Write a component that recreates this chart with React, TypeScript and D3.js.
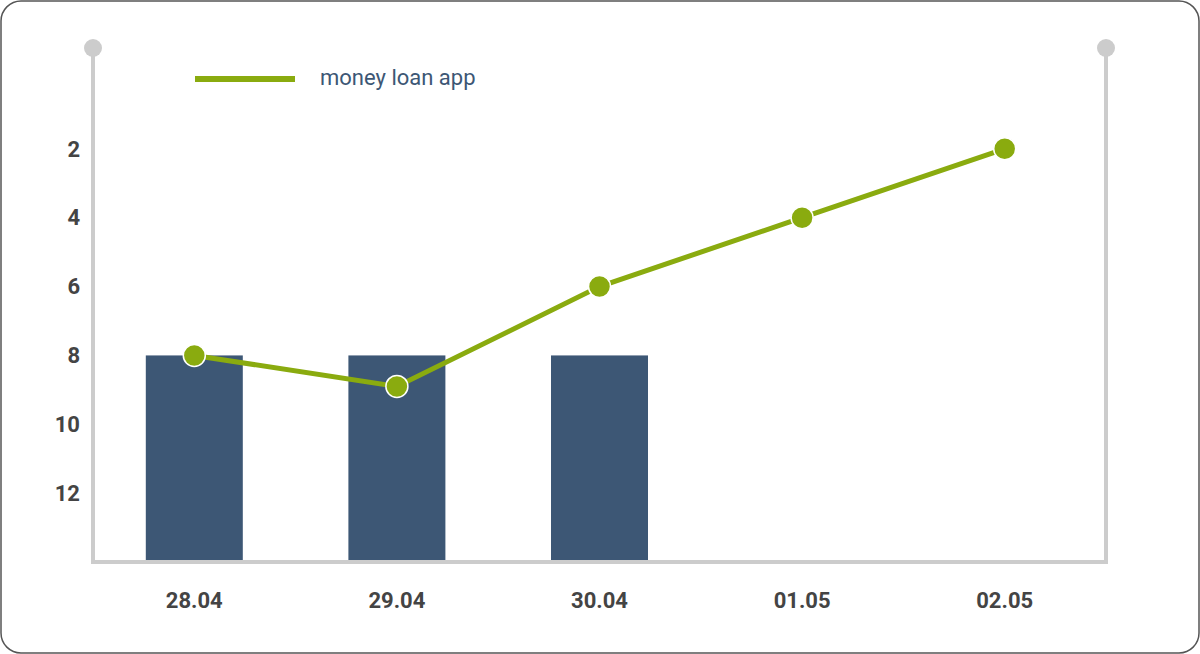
import React from "react";
import * as d3 from "d3";

const categories = ["28.04", "29.04", "30.04", "01.05", "02.05"];
const barValues: (number | null)[] = [8, 8, 8, null, null];
const lineValues = [8, 8.9, 6, 4, 2];
const yTicks = [2, 4, 6, 8, 10, 12];
const seriesName = "money loan app";

export default function App() {
  const W = 1200, H = 654;
  const left = 93, right = 1106, top = 48, bottom = 562;
  const x = d3.scaleBand<string>().domain(categories).range([left, right]);
  const y = d3.scaleLinear().domain([0, 14]).range([80, bottom]);
  const green = "#8aab0f";
  const line = d3.line<number>().x((_, i) => x(categories[i])! + x.bandwidth() / 2).y((d) => y(d));
  const font = "Roboto, sans-serif";
  return (
    <svg width={W} height={H} style={{ position: "absolute", left: 0, top: 0 }}>
      <rect x={1} y={1} width={W - 2} height={H - 2} rx={20} fill="#fff" stroke="#555" strokeWidth={1.5} />
      {barValues.map((v, i) =>
        v == null ? null : (
          <rect key={i} x={x(categories[i])! + x.bandwidth() / 2 - 48.5} width={97} y={y(v)} height={bottom - y(v)} fill="#3d5775" />
        )
      )}
      <g stroke="#cccccc" strokeWidth={4} fill="none">
        <path d={`M${left},${top}V${bottom}H${right}V${top}`} />
      </g>
      <circle cx={left} cy={top} r={9} fill="#cccccc" />
      <circle cx={right} cy={top} r={9} fill="#cccccc" />
      {yTicks.map((t) => (
        <text key={t} x={80} y={y(t)} dy="0.35em" textAnchor="end" fontFamily={font} fontWeight="bold" fontSize={22} fill="#444">{t}</text>
      ))}
      {categories.map((c) => (
        <text key={c} x={x(c)! + x.bandwidth() / 2} y={600} dy="0.35em" textAnchor="middle" fontFamily={font} fontWeight="bold" fontSize={22} fill="#444">{c}</text>
      ))}
      <path d={line(lineValues)!} fill="none" stroke={green} strokeWidth={5} />
      {lineValues.map((v, i) => (
        <circle key={i} cx={x(categories[i])! + x.bandwidth() / 2} cy={y(v)} r={11} fill={green} stroke="#fff" strokeWidth={1.5} />
      ))}
      <line x1={195} x2={295} y1={79} y2={79} stroke={green} strokeWidth={6} />
      <text x={320} y={77} dy="0.35em" fontFamily={font} fontSize={22} fill="#3d5775">{seriesName}</text>
    </svg>
  );
}
